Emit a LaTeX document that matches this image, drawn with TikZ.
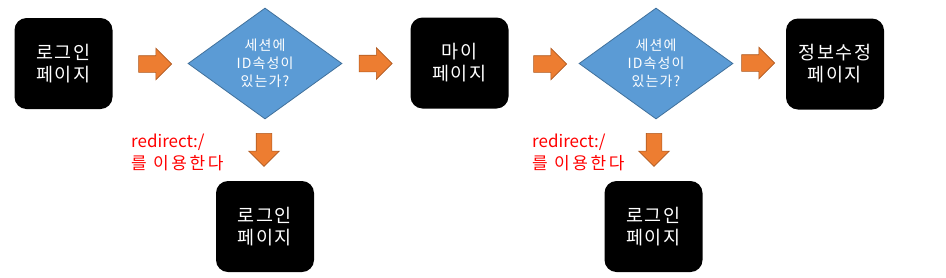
\documentclass[tikz,border=0pt]{standalone}
\usepackage{fontspec}
\newfontfamily\kfont{Noto Sans CJK KR}
\newfontfamily\kwide[LetterSpace=8]{Noto Sans CJK KR}
\newfontfamily\kwider[LetterSpace=15]{Noto Sans CJK KR}
\usetikzlibrary{positioning, calc, shapes.geometric, shapes.arrows}
\definecolor{DiaBlue}{HTML}{5B9BD5}
\definecolor{DiaEdge}{HTML}{41719C}
\definecolor{ArrOrange}{HTML}{ED7D31}
\definecolor{ArrEdge}{HTML}{AE5A21}
\definecolor{NoteRed}{HTML}{FF0000}

\begin{document}
\begin{tikzpicture}[
        x=1pt, y=-1pt,
        page/.style={fill=black, rounded corners=12pt, minimum width=98pt, minimum height=91pt,
          text=white, align=center, font=\kwide\fontsize{18.5}{22}\selectfont},
        check/.style={diamond, fill=DiaBlue, draw=DiaEdge, line width=0.8pt, aspect=1.39,
          minimum width=154pt, minimum height=111pt, inner sep=0pt,
          text=white, align=center, font=\kwide\fontsize{14}{18}\selectfont},
        pointer/.style={single arrow, fill=ArrOrange, draw=ArrEdge, line width=0.6pt,
          inner xsep=0pt, inner ysep=8pt, minimum height=33pt, single arrow head extend=7.5pt},
        downpointer/.style={pointer, shape border rotate=270, inner xsep=7.5pt, inner ysep=0pt},
        note/.style={text=NoteRed, align=left, inner sep=0pt, font=\kfont\fontsize{17}{22}\selectfont},
      ]
        \useasboundingbox (0,0) rectangle (946,277);
        % ---- 위쪽 흐름 ----
        \node[page] (login) at (63.5,63.5) {로그인\\페이지};
        \node[check] (chkA) at (265,63.5) {세션에\\ID속성이\\있는가?};
        \node[page] (mypage) at (459.5,63) {마이\\페이지};
        \node[check] (chkB) at (656,63.5) {세션에\\ID속성이\\있는가?};
        \node[page] (edit) at (835,64) {정보수정\\페이지};
        % ---- 아래쪽 로그인 페이지 ----
        \node[page] (loginA) at (265,226.5) {로그인\\페이지};
        \node[page] (loginB) at (653.5,226.5) {로그인\\페이지};
        % ---- 오른쪽 화살표 ----
        \node[pointer] (goA) at (151,64) {};
        \node[pointer] (goB) at (371.5,63.5) {};
        \node[pointer] (goC) at (546,64) {};
        \node[pointer] (goD) at (754,63) {};
        % ---- 아래쪽 화살표 ----
        \node[downpointer] (downA) at (264,146) {};
        \node[downpointer] (downB) at (654,146) {};
        % ---- 빨간 설명 ----
        \node[note, anchor=north west] (noteA) at (131,134) {redirect:/\\{\kwider 를 이용한다}};
        \node[note, anchor=north west] (noteB) at (532,134) {redirect:/\\{\kwider 를 이용한다}};
      \end{tikzpicture}
\end{document}
